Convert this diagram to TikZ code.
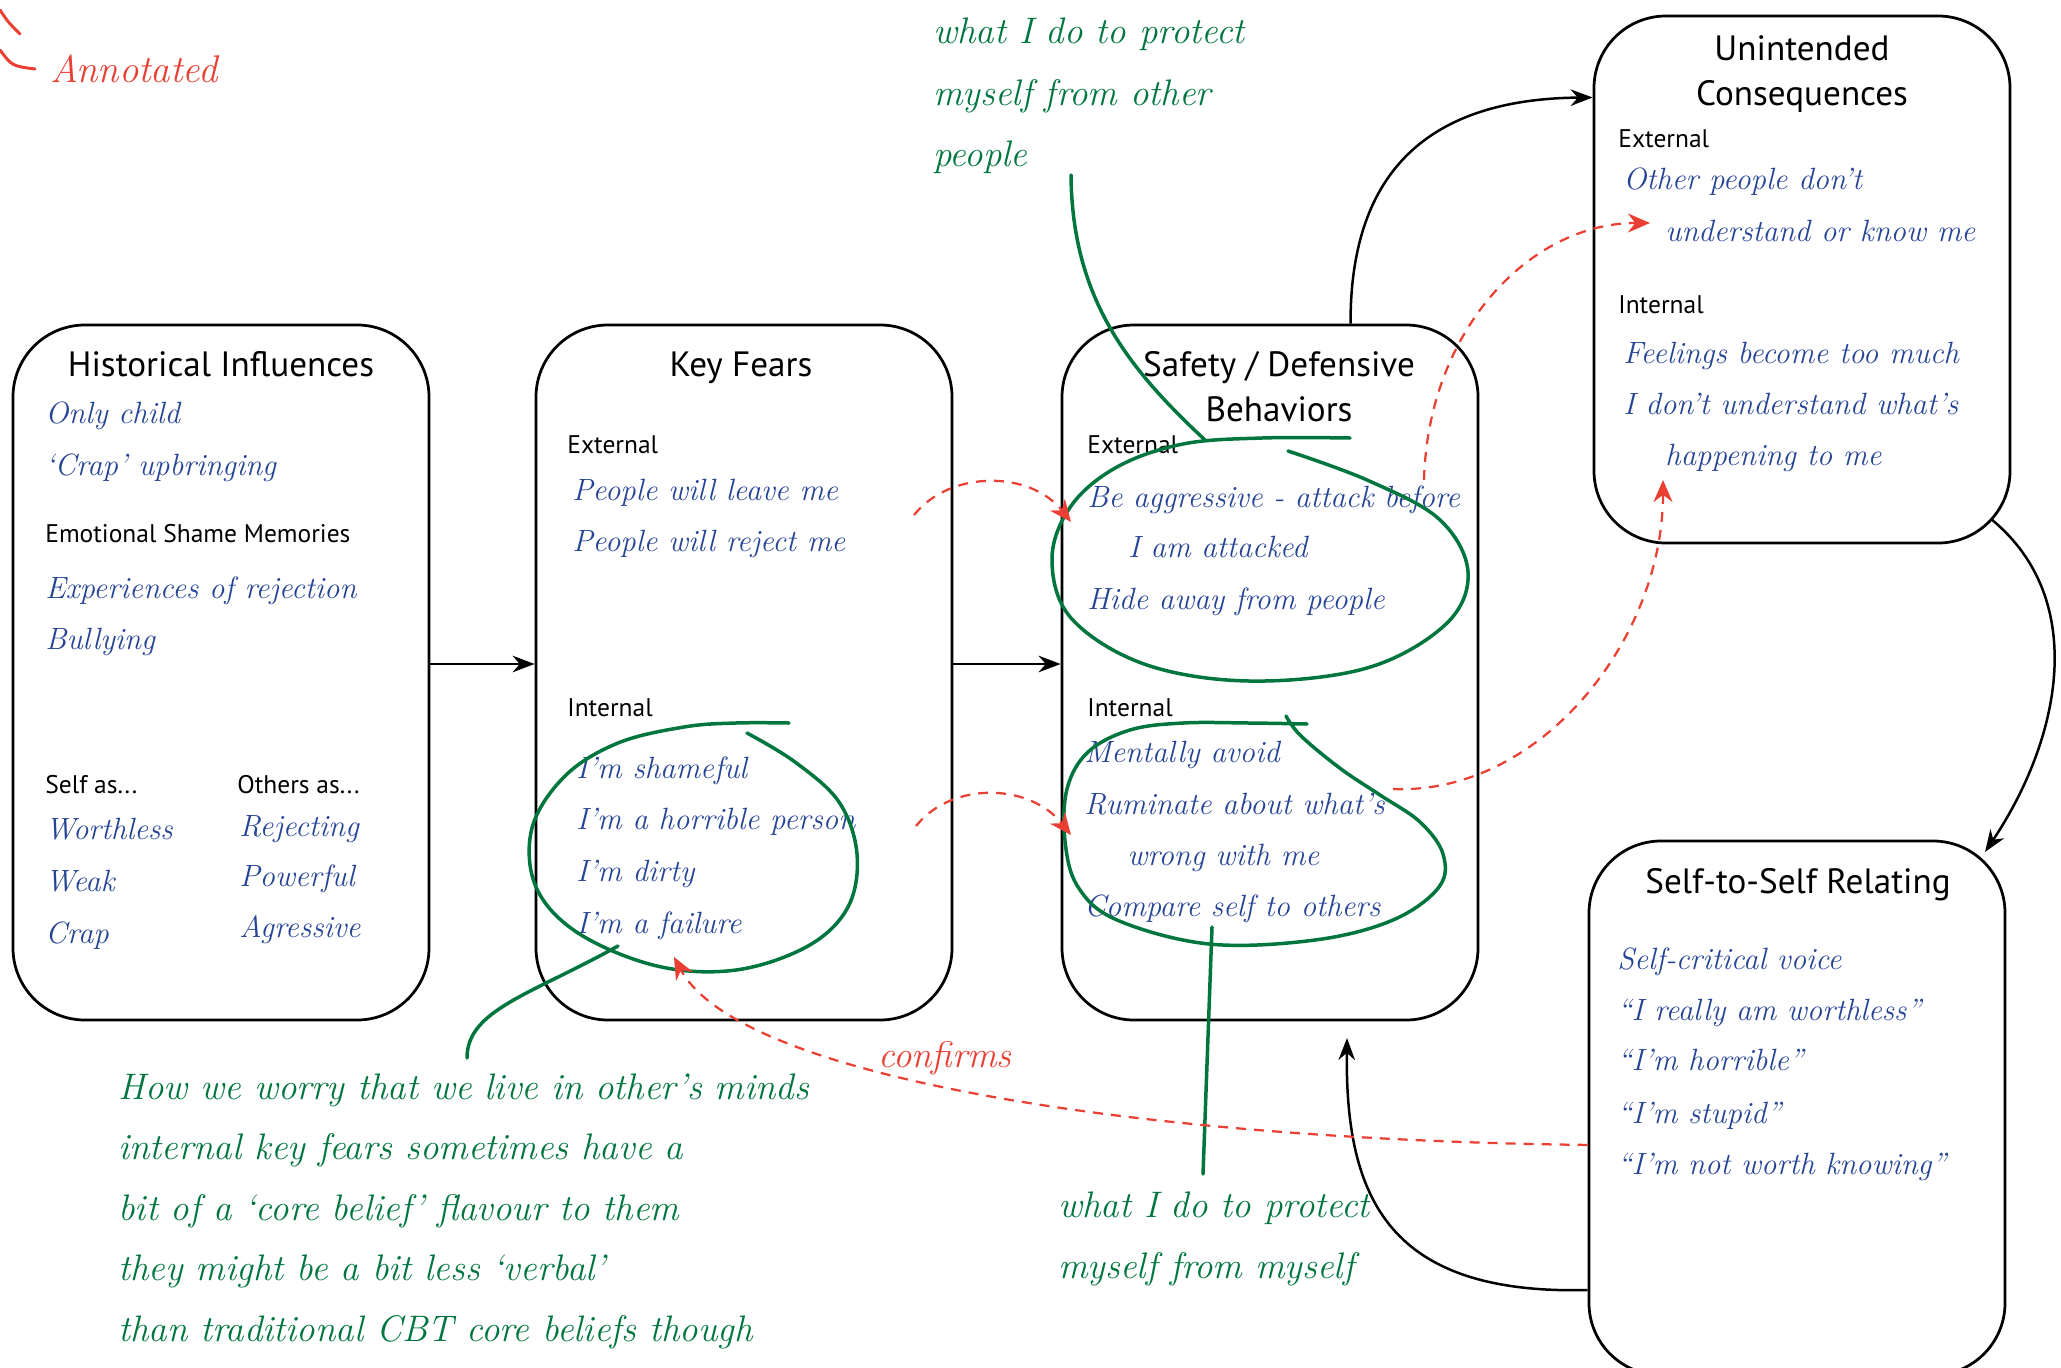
\documentclass[tikz,border=0pt]{standalone}
\usepackage{fontspec}
\setsansfont{PT Sans}
\usepackage{tikz}
\usetikzlibrary{arrows.meta, positioning}

\definecolor{inkblue}{RGB}{38,68,150}
\definecolor{pengreen}{RGB}{0,118,62}
\definecolor{penred}{RGB}{234,64,52}

\newcommand{\titlefont}{\sffamily\fontsize{20}{24}\selectfont}
\newcommand{\labelfont}{\sffamily\fontsize{14.5}{17}\selectfont}
\newcommand{\handfont}{\itshape\fontsize{17.5}{21}\selectfont}
\newcommand{\notefont}{\itshape\fontsize{21}{25}\selectfont}

\tikzset{
  stage/.style={draw, line width=0.55mm, rounded corners=14.4mm, minimum width=83.2mm, inner sep=0pt},
  heading/.style={font=\titlefont, anchor=base, inner sep=0pt},
  part/.style={font=\labelfont, anchor=base west, inner sep=0pt},
  hand/.style={font=\handfont, text=inkblue, anchor=base west, inner sep=0pt},
  note/.style={font=\notefont, text=pengreen, anchor=base west, inner sep=0pt},
  scribble/.style={draw=pengreen, line width=0.7mm, line cap=round, line join=round},
  arrow/.style={line width=0.5mm, -{Stealth[length=4.4mm, width=3.3mm]}},
  link/.style={draw=penred, line width=0.45mm, dash pattern=on 2mm off 1.6mm, -{Stealth[length=4.4mm, width=3.8mm]}, penred}
}

\begin{document}
\begin{tikzpicture}[x=0.2mm, y=-0.2mm]
  \useasboundingbox (0,0) rectangle (2061,1367);

  % stamp in the corner
  \draw[penred, line width=0.6mm, line cap=round] (0,10) .. controls (8,22) .. (20,34);
  \draw[penred, line width=0.6mm, line cap=round] (0,50) .. controls (12,66) .. (35,69);
  \node[note, text=penred, font=\itshape\fontsize{22}{26}\selectfont] (stamp) at (50,82) {Annotated};

  % Historical Influences
  \node[stage, minimum height=139mm] (hist) at (221,672.5) {};
  \node[heading] (histT) at (221,376) {Historical Influences};
  \foreach \y/\txt [count=\i] in {423/Only child, 475/‘Crap’ upbringing, 598/Experiences of rejection, 649/Bullying, 839/Worthless, 891/Weak, 943/Crap}
    \node[hand] (hist-\i) at (45,\y) {\txt};
  \foreach \y/\txt [count=\i] in {836/Rejecting, 886/Powerful, 937/Agressive}
    \node[hand] (others-\i) at (239,\y) {\txt};
  \node[part] (shame) at (45,542) {Emotional Shame Memories};
  \node[part] (selfAs) at (45,793) {Self as...};
  \node[part] (othersAs) at (237,793) {Others as...};

  % Key Fears
  \node[stage, minimum height=139mm, right=20.85mm of hist] (fears) {};
  \node[heading] (fearsT) at (741,376) {Key Fears};
  \node[part] (fearsExt) at (567,453) {External};
  \node[part] (fearsInt) at (567,716) {Internal};
  \foreach \y/\txt [count=\i] in {500/People will leave me, 551/People will reject me}
    \node[hand] (fearExt-\i) at (572,\y) {\txt};
  \foreach \y/\txt [count=\i] in {778/I’m shameful, 829/I’m a horrible person, 881/I’m dirty, 933/I’m a failure}
    \node[hand] (fearInt-\i) at (576,\y) {\txt};

  % Safety / Defensive Behaviors
  \node[stage, minimum height=139mm, right=21.45mm of fears] (safety) {};
  \node[heading] (safetyT) at (1279,376) {Safety / Defensive};
  \node[heading] (safetyT2) at (1279,421) {Behaviors};
  \node[part] (safeExt) at (1087,453) {External};
  \node[part] (safeInt) at (1087,716) {Internal};
  \foreach \x/\y/\txt [count=\i] in {1087/507/Be aggressive - attack before, 1128/557/I am attacked, 1087/609/Hide away from people}
    \node[hand] (safeExt-\i) at (\x,\y) {\txt};
  \foreach \x/\y/\txt [count=\i] in {1084/762/Mentally avoid, 1084/814/Ruminate about what’s, 1127/865/wrong with me, 1084/916/Compare self to others}
    \node[hand] (safeInt-\i) at (\x,\y) {\txt};

  % Unintended Consequences
  \node[stage, minimum height=105.4mm] (conseq) at (1802,279.5) {};
  \node[heading] (conseqT) at (1802,60) {Unintended};
  \node[heading] (conseqT2) at (1802,105) {Consequences};
  \node[part] (conseqExt) at (1618,147) {External};
  \node[part] (conseqInt) at (1618,313) {Internal};
  \foreach \x/\y/\txt [count=\i] in {1623/189/Other people don’t, 1665/241/understand or know me, 1623/363/Feelings become too much, 1623/414/I don’t understand what’s, 1665/465/happening to me}
    \node[hand] (conseq-\i) at (\x,\y) {\txt};

  % Self-to-Self Relating
  \node[stage, minimum height=106.8mm] (self) at (1797,1108) {};
  \node[heading] (selfT) at (1798,893) {Self-to-Self Relating};
  \foreach \y/\txt [count=\i] in {969/Self-critical voice, 1020/“I really am worthless”, 1070/“I’m horrible”, 1123/“I’m stupid”, 1174/“I’m not worth knowing”}
    \node[hand] (self-\i) at (1617,\y) {\txt};

  % main cycle
  \coordinate (conseqOut) at (1991,519);
  \coordinate (selfIn) at (1985,852);
  \coordinate (safetyIn) at (1347,1038);
  \draw[arrow] ([yshift=1.7mm]hist.east) -- ([yshift=1.7mm]fears.west);
  \draw[arrow] ([yshift=1.7mm]fears.east) -- ([yshift=1.7mm]safety.west);
  \draw[arrow] (safety.77) .. controls (1350,180) and (1420,99) .. (conseq.139);
  \draw[arrow] (conseqOut) .. controls (2090,600) and (2060,740) .. (selfIn);
  \draw[arrow] (self.221) .. controls (1390,1295) and (1345,1200) .. (safetyIn);

  % green scribbles
  \draw[scribble] plot[smooth, tension=0.6] coordinates {(789,723) (736,723) (684,727) (618,743) (565,776) (532,828) (536,887) (578,933) (657,966) (736,970) (808,946) (848,907) (857,854) (839,802) (795,762) (747,733)};
  \draw[scribble] plot[smooth, tension=0.6] coordinates {(1350,438) (1262,438) (1183,444) (1117,467) (1071,506) (1052,559) (1071,618) (1144,664) (1249,681) (1367,668) (1446,624) (1468,572) (1439,519) (1367,480) (1288,451)};
  \draw[scribble] plot[smooth, tension=0.6] coordinates {(1307,724) (1249,723) (1183,723) (1130,730) (1088,752) (1067,789) (1065,841) (1078,887) (1117,920) (1209,944) (1315,940) (1393,920) (1439,887) (1443,854) (1420,822) (1380,795) (1341,769) (1301,736) (1286,716)};

  \coordinate (fearLoop) at (618,946);
  \coordinate (fearNote) at (467,1058);
  \coordinate (otherTop) at (1071,175);
  \coordinate (otherLoop) at (1205,440);
  \coordinate (mySelfLoop) at (1212,927);
  \coordinate (mySelfNote) at (1203,1174);
  \draw[scribble] (fearLoop) .. controls (530,995) and (467,1010) .. (fearNote);
  \draw[scribble] (otherTop) .. controls (1072,300) and (1130,370) .. (otherLoop);
  \draw[scribble] (mySelfLoop) -- (mySelfNote);

  % green notes
  \foreach \y/\txt [count=\i] in {1099/How we worry that we live in other’s minds, 1159/internal key fears sometimes have a, 1220/bit of a ‘core belief’ flavour to them, 1280/they might be a bit less ‘verbal’, 1341/than traditional CBT core beliefs though}
    \node[note] (worry-\i) at (118,\y) {\txt};
  \foreach \y/\txt [count=\i] in {43/what I do to protect, 105/myself from other, 166/people}
    \node[note] (others-note-\i) at (933,\y) {\txt};
  \foreach \y/\txt [count=\i] in {1217/what I do to protect, 1278/myself from myself}
    \node[note] (myself-note-\i) at (1058,\y) {\txt};

  % red links
  \coordinate (fearExtOut) at (914,515);
  \coordinate (safeExtIn) at (1071,522);
  \coordinate (fearIntOut) at (916,826);
  \coordinate (safeIntIn) at (1071,835);
  \coordinate (safeExtOut) at (1424,480);
  \coordinate (conseqExtIn) at (1650,223);
  \coordinate (safeIntOut) at (1393,789);
  \coordinate (conseqIntIn) at (1663,480);
  \coordinate (fearIntIn) at (674,957);
  \draw[link] (fearExtOut) .. controls (950,470) and (1030,470) .. (safeExtIn);
  \draw[link] (fearIntOut) .. controls (952,781) and (1030,783) .. (safeIntIn);
  \draw[link] (safeExtOut) .. controls (1428,330) and (1530,223) .. (conseqExtIn);
  \draw[link] (safeIntOut) .. controls (1540,795) and (1663,640) .. (conseqIntIn);
  \draw[link] (self.190) .. controls (1150,1140) and (740,1080) .. (fearIntIn);
  \node[note, text=penred, font=\itshape\fontsize{21}{25}\selectfont] (confirms) at (878,1067) {confirms};
\end{tikzpicture}
\end{document}
